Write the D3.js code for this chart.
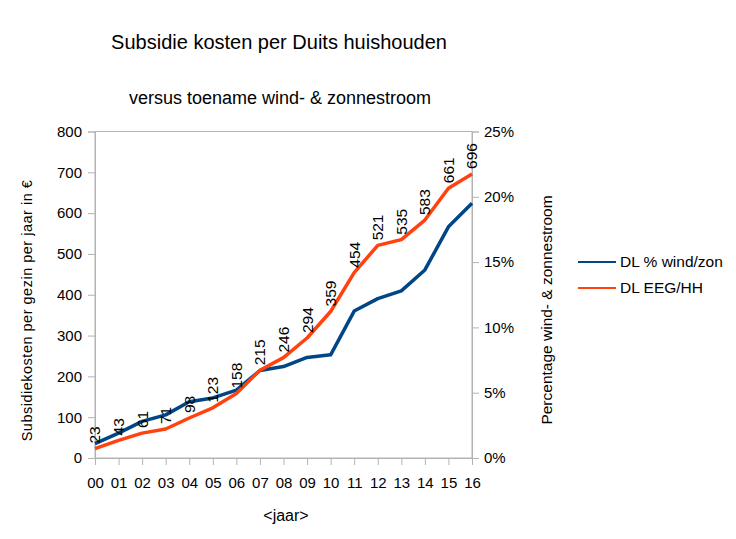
<!DOCTYPE html>
<html>
<head>
<meta charset="utf-8">
<script src="https://cdn.jsdelivr.net/npm/d3@7"></script>
<style>
  body { margin: 0; background: #fff; }
  text { font-family: "Liberation Sans", Arial, sans-serif; fill: #000; }
</style>
</head>
<body>
<div id="chart"></div>
<script>
// --data
const years = ["00","01","02","03","04","05","06","07","08","09","10","11","12","13","14","15","16"];
// DL EEG/HH (euro per huishouden)
const eegHH = [23, 43, 61, 71, 98, 123, 158, 215, 246, 294, 359, 454, 521, 535, 583, 661, 696];
// DL % wind/zon (aandeel)
const windZon = [0.011, 0.019, 0.028, 0.033, 0.043, 0.046, 0.052, 0.067, 0.070, 0.077, 0.079, 0.1125, 0.122, 0.128, 0.144, 0.177, 0.195];
const leftTicks = [0, 100, 200, 300, 400, 500, 600, 700, 800];
const rightTicks = [0, 0.05, 0.10, 0.15, 0.20, 0.25];

const W = 736, H = 539;
const margin = {left: 95, right: 264, top: 131.5, bottom: 81};
const width = W - margin.left - margin.right,
      height = H - margin.top - margin.bottom;

const svg = d3.select("#chart").append("svg")
  .attr("width", W).attr("height", H);

// titels
svg.append("text").attr("x", 279).attr("y", 49)
  .attr("text-anchor", "middle").style("font-size", "20px")
  .text("Subsidie kosten per Duits huishouden");
svg.append("text").attr("x", 280).attr("y", 104)
  .attr("text-anchor", "middle").style("font-size", "18px")
  .text("versus toename wind- & zonnestroom");

const g = svg.append("g")
  .attr("transform", "translate(" + margin.left + "," + margin.top + ")");

// scales
const x = d3.scalePoint().domain(years).range([0, width]);
const y = d3.scaleLinear().domain([0, 800]).range([height, 0]);
const y2 = d3.scaleLinear().domain([0, 0.25]).range([height, 0]);

// plot frame
g.append("rect").attr("width", width).attr("height", height)
  .attr("fill", "none").attr("stroke", "#b3b3b3");

// axes
const axisGrey = function(sel){
  sel.select(".domain").attr("stroke", "#b3b3b3");
  sel.selectAll(".tick line").attr("stroke", "#b3b3b3");
  sel.selectAll(".tick text").style("font-size", "15px")
    .style("font-family", "'Liberation Sans', Arial, sans-serif").attr("fill", "#000");
};

g.append("g")
  .attr("transform", "translate(0," + height + ")")
  .call(d3.axisBottom(x).tickSize(7).tickPadding(12))
  .call(axisGrey);

g.append("g")
  .call(d3.axisLeft(y).tickValues(leftTicks).tickSize(7).tickPadding(6))
  .call(axisGrey);

g.append("g")
  .attr("transform", "translate(" + width + ",0)")
  .call(d3.axisRight(y2).tickValues(rightTicks).tickSize(7).tickPadding(5)
    .tickFormat(d3.format(".0%")))
  .call(axisGrey);

// axis labels
svg.append("text").attr("x", 286).attr("y", 521)
  .attr("text-anchor", "middle").style("font-size", "16px")
  .text("<jaar>");
svg.append("text")
  .attr("transform", "translate(32,310.5) rotate(-90)")
  .attr("text-anchor", "middle").style("font-size", "14.5px")
  .style("letter-spacing", "0.5px")
  .text("Subsidiekosten per gezin per jaar in €");
svg.append("text")
  .attr("transform", "translate(552,310) rotate(-90)")
  .attr("text-anchor", "middle").style("font-size", "15.5px")
  .text("Percentage wind- & zonnestroom");

// lines
const lineLeft = d3.line().x(function(d, i){ return x(years[i]); }).y(function(d){ return y(d); });
const lineRight = d3.line().x(function(d, i){ return x(years[i]); }).y(function(d){ return y2(d); });

g.append("path").datum(windZon)
  .attr("d", lineRight)
  .attr("fill", "none").attr("stroke", "#004586")
  .attr("stroke-width", 3.5).attr("stroke-linejoin", "round");

g.append("path").datum(eegHH)
  .attr("d", lineLeft)
  .attr("fill", "none").attr("stroke", "#ff420e")
  .attr("stroke-width", 3.5).attr("stroke-linejoin", "round");

// data labels (gedraaid)
g.append("g").selectAll("text")
  .data(eegHH)
  .enter()
  .append("text")
  .attr("transform", function(d, i){
    return "translate(" + x(years[i]) + "," + (y(d) - 5) + ") rotate(-90)";
  })
  .attr("dy", "0.35em")
  .style("font-size", "15.5px")
  .text(function(d){ return d; });

// legend
const legend = [
  {name: "DL % wind/zon", color: "#004586"},
  {name: "DL EEG/HH", color: "#ff420e"}
];
const lg = svg.append("g").selectAll("g").data(legend).enter().append("g")
  .attr("transform", function(d, i){ return "translate(578," + (262 + i * 26) + ")"; });
lg.append("line").attr("x1", 0).attr("x2", 38)
  .attr("stroke", function(d){ return d.color; }).attr("stroke-width", 2);
lg.append("text").attr("x", 42).attr("dy", "0.35em")
  .style("font-size", "15.5px")
  .text(function(d){ return d.name; });
</script>
</body>
</html>
